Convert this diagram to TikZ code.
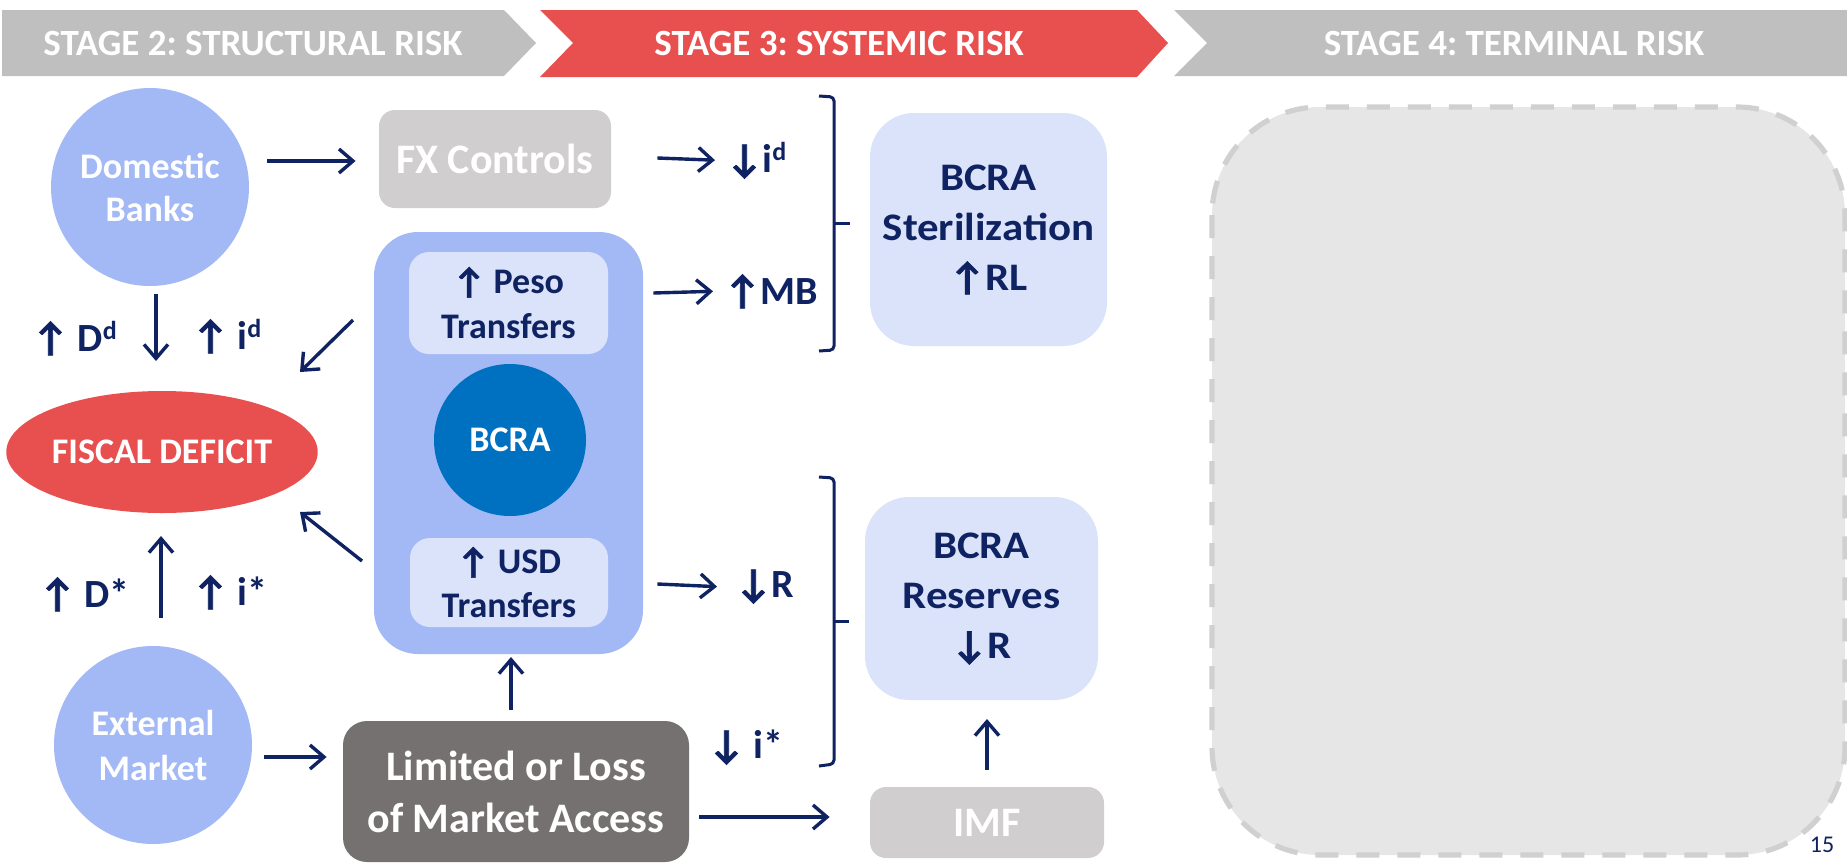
\documentclass[tikz,border=0pt]{standalone}
\usepackage{fontspec}
\setmainfont{Carlito}
\newfontfamily\wfont[FakeStretch=1.1]{Carlito}
\newfontfamily\arrfont[FakeBold=1.5]{Carlito}
\usetikzlibrary{arrows.meta,calc,shapes.geometric}
\frenchspacing
\definecolor{navy}{HTML}{0F2262}
\definecolor{lblue}{HTML}{A3B9F5}
\definecolor{pblue}{HTML}{DAE3FA}
\definecolor{dblue}{HTML}{0070C0}
\definecolor{fred}{HTML}{E85050}
\definecolor{hgray}{HTML}{BFBFBF}
\definecolor{lgray}{HTML}{D0CECE}
\definecolor{dgray}{HTML}{767171}
\definecolor{bgray}{HTML}{E6E6E6}
\definecolor{dashc}{HTML}{D0D0D0}
\newcommand\UA{{\arrfont ↑}}
\newcommand\DA{{\arrfont ↓}}
\newcommand\sps[1]{\raisebox{6pt}{\fontsize{13}{13}\selectfont #1}}
\newcommand\fA{\fontsize{18}{21.5}\selectfont\bfseries}
\newcommand\fB{\fontsize{21}{26}\selectfont\bfseries}
\newcommand\fL{\fontsize{20}{24}\selectfont\bfseries}
\begin{document}
\begin{tikzpicture}[x=0.5pt,y=-0.5pt,
  circ/.style={circle, fill=lblue, text=white, inner sep=0pt, minimum size=99pt, align=center, font=\fA},
  lbox/.style={rectangle, rounded corners=10pt, fill=pblue, text=navy, inner sep=0pt, align=center, font=\fA},
  bigbox/.style={rectangle, rounded corners=22pt, fill=pblue, text=navy, inner sep=0pt, align=center, font=\wfont\fontsize{19.5}{25}\selectfont\bfseries},
  gbox/.style={rectangle, rounded corners=8pt, fill=lgray, text=white, inner sep=0pt, align=center, font=\fB},
  lbl/.style={text=navy, inner sep=0pt, anchor=base west, font=\fL},
  hdr/.style={text=white, inner sep=0pt, anchor=base, font=\fontsize{18.5}{22}\selectfont\bfseries},
  arr/.style={draw=navy, line width=1.7pt, -{Straight Barb[length=7pt,width=12pt]}},
  brk/.style={draw=navy, line width=1.5pt, rounded corners=2pt}
]
\useasboundingbox (0,0) rectangle (1847,863);
% header
\fill[hgray] (2,10) -- (504,10) -- (536,43) -- (504,76) -- (2,76) -- cycle;
\fill[fred] (540,10) -- (1137,10) -- (1168,43) -- (1137,77) -- (540,77) -- (573,43) -- cycle;
\fill[hgray] (1174,10) -- (1847,10) -- (1847,76) -- (1174,76) -- (1207,43) -- cycle;
\node[hdr] (h2) at (253,55) {STAGE 2: STRUCTURAL RISK};
\node[hdr] (h3) at (839,55) {STAGE 3: SYSTEMIC RISK};
\node[hdr] (h4) at (1514,55) {STAGE 4: TERMINAL RISK};
% terminal box
\draw[fill=bgray, draw=dashc, line width=2.6pt, dash pattern=on 11.5pt off 9pt, rounded corners=54pt] (1212,107) rectangle (1845,855);
\node[text=navy, font=\fontsize{12}{14}\selectfont, inner sep=0pt] (pg) at (1822,845) {15};
% left nodes
\node[circ] (db) at (150,187) {Domestic\\Banks};
\node[circ, font=\fontsize{18}{22.5}\selectfont\bfseries] (em) at (153,745) {External\\Market};
\node[ellipse, fill=fred, text=white, inner sep=0pt, minimum width=153pt, minimum height=61pt, font=\fA] (fd) at (162,452) {FISCAL DEFICIT};
% middle
\node[gbox, minimum width=116pt, minimum height=49pt] (fx) at (495,159) {FX Controls};
\node[rectangle, rounded corners=22pt, fill=lblue, minimum width=134.5pt, minimum height=211pt, inner sep=0pt] (bx) at (508.5,443) {};
\node[lbox, minimum width=99.5pt, minimum height=51pt, font=\fontsize{18}{22.5}\selectfont\bfseries] (peso) at (508.5,303) {\UA\ Peso\\Transfers};
\node[circle, fill=dblue, text=white, minimum size=76pt, inner sep=0pt, font=\fA] (bcra) at (510,440) {BCRA};
\node[lbox, minimum width=99pt, minimum height=44.5pt, font=\fontsize{18}{22}\selectfont\bfseries] (usd) at (509,582.5) {\UA\ USD\\Transfers};
\node[rectangle, rounded corners=12pt, fill=dgray, text=white, minimum width=173pt, minimum height=70.5pt, inner sep=0pt, align=center, font=\fB] (lim) at (516,791.5) {Limited or Loss\\of Market Access};
% right
\node[bigbox, minimum width=118.5pt, minimum height=116.5pt] (ster) at (988.5,229.5) {BCRA\\Sterilization\\\UA RL};
\node[bigbox, minimum width=116.5pt, minimum height=101.5pt] (res) at (981.5,598.5) {BCRA\\Reserves\\\DA R};
\node[gbox, minimum width=117pt, minimum height=35.5pt] (imf) at (987,822.5) {IMF};
% labels
\node[lbl] (lid) at (726,172) {\DA i\sps{d}};
\node[lbl] (lmb) at (724,304) {\UA MB};
\node[lbl] (lr) at (735,597) {\DA R};
\node[lbl] (lis) at (708,758) {\DA\ i*};
\node[lbl] (ldd) at (32,351) {\UA\ D\sps{d}};
\node[lbl] (lidl) at (192,349) {\UA\ i\sps{d}};
\node[lbl] (lds) at (39,607) {\UA\ D*};
\node[lbl] (lisl) at (192,605) {\UA\ i*};
% arrow end coordinates
\coordinate (c1) at (156,294); \coordinate (c2) at (156,361);
\coordinate (c3) at (161,618); \coordinate (c4) at (161,536);
\coordinate (c5) at (353,320); \coordinate (c6) at (300,372);
\coordinate (c7) at (362,561); \coordinate (c8) at (300,512);
\coordinate (c9) at (511,710); \coordinate (c10) at (511,657);
\coordinate (c11) at (987,770); \coordinate (c12) at (987,719);
% arrows
\draw[arr] (db.east |- fx.west) ++(18,2) -- ($(fx.west)+(-23,2)$);
\draw[arr] (c1) -- (c2);
\draw[arr] (c3) -- (c4);
\draw[arr] (c5) -- (c6);
\draw[arr] (c7) -- (c8);
\draw[arr] (c9) -- (c10);
\draw[arr] (c11) -- (c12);
\draw[arr] ($(em.east)+(12,12)$) -- ($(lim.west)+(-16,-34.5)$);
\draw[arr] ($(lim.east)+(10,25.5)$) -- ($(imf.west)+(-40,-5.5)$);
\draw[arr] ($(fx.east)+(46,-1)$) -- ($(lid.west)+(-11,0)$ |- 0,158);
\draw[arr] ($(bx.east |- peso.east)+(10,-10)$) -- ($(lmb.west)+(-11,0)$ |- 0,293);
\draw[arr] ($(bx.east |- usd.east)+(14,1.5)$) -- ($(lr.west)+(-18,0)$ |- 0,584);
% brackets
\draw[brk] (819,96) -- (834,97) -- (834,350) -- (819,351);
\draw[brk] (834,223) -- (850,223);
\draw[brk] (819,477) -- (834,478) -- (834,764) -- (819,766);
\draw[brk] (834,621) -- (849,621);
\end{tikzpicture}
\end{document}
